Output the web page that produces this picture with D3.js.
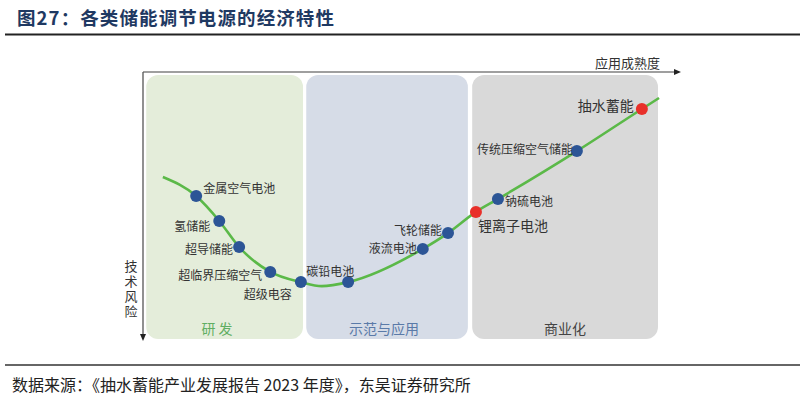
<!DOCTYPE html>
<html><head><meta charset="utf-8">
<script src="https://cdn.jsdelivr.net/npm/d3@7/dist/d3.min.js"></script>
<style>
html,body{margin:0;padding:0;background:#fff;}
svg{display:block;}
text{font-family:"Noto Sans CJK SC","Noto Sans",sans-serif;}
</style></head>
<body>
<svg id="c" width="805" height="403"></svg>
<script>
// ---- data ----
const titleText = "图27：各类储能调节电源的经济特性";
const sourceText = "数据来源：《抽水蓄能产业发展报告 2023 年度》，东吴证券研究所";
const xAxisLabel = "应用成熟度";
const yAxisLabel = "技术风险";

const stages = ["研 发", "示范与应用", "商业化"];
const stageStart = [0.6, 30.4, 61.3];
const stageEnd   = [29.8, 60.5, 95.9];

const techs = ["金属空气电池","氢储能","超导储能","超临界压缩空气","超级电容","碳铅电池","液流电池","飞轮储能","锂离子电池","钠硫电池","传统压缩空气储能","抽水蓄能"];
const maturity = [9.9, 14.2, 17.9, 23.7, 29.4, 38.2, 52.1, 56.8, 62.0, 66.1, 80.8, 92.9];
const level    = [53.7, 44.4, 34.7, 25.4, 21.6, 21.6, 34.0, 39.9, 47.8, 52.6, 70.5, 86.2];
const highlight = [false,false,false,false,false,false,false,false,true,false,false,true];

// curve knots (maturity, level)
const curveX = [3.7, 9.9, 14.2, 17.9, 23.7, 29.4, 33.3, 38.2, 52.1, 56.8, 62.0, 66.1, 80.8, 92.9, 96.1];
const curveY = [60.8, 53.7, 44.4, 34.7, 25.4, 21.6, 20.1, 21.6, 34.0, 39.9, 47.8, 52.6, 70.5, 86.2, 90.3];

// ---- layout ----
const svg = d3.select("#c");
const x = d3.scaleLinear().domain([0, 100]).range([143, 680]);
const y = d3.scaleLinear().domain([0, 100]).range([340, 72]);

const labelLayout = [
  {a:"start", dx:7, dy:-9, fs:12},
  {a:"end", dx:-9, dy:4, fs:12},
  {a:"end", dx:-6, dy:1, fs:12},
  {a:"end", dx:-8, dy:3, fs:12},
  {a:"end", dx:-9, dy:11, fs:12},
  {a:"start", dx:-42, dy:-12, fs:12},
  {a:"end", dx:-6, dy:-1, fs:12},
  {a:"end", dx:-6, dy:-4, fs:12},
  {a:"start", dx:2, dy:13, fs:14},
  {a:"start", dx:7, dy:1, fs:12},
  {a:"end", dx:-4, dy:-3, fs:12},
  {a:"end", dx:-8, dy:-4, fs:14}
];
const stageFill = ["#e4edda", "#d6dce7", "#d9d9d9"];
const stageText = ["#5fae62", "#5a7aa8", "#444444"];
const stageLabelX = [217, 384, 565];

// title
svg.append("text").attr("x", 17).attr("y", 25)
  .attr("font-size", 18.5).attr("font-weight", 700).attr("fill", "#1f3962")
  .attr("letter-spacing", 1.1)
  .text(titleText);
svg.append("line").attr("x1", 5).attr("x2", 800).attr("y1", 34.5).attr("y2", 34.5)
  .attr("stroke", "#222").attr("stroke-width", 2);

// stage panels
stages.forEach((s, i) => {
  svg.append("rect")
    .attr("x", x(stageStart[i])).attr("y", 75)
    .attr("width", x(stageEnd[i]) - x(stageStart[i])).attr("height", 264)
    .attr("rx", 12).attr("ry", 12)
    .attr("fill", stageFill[i]);
  svg.append("text").attr("x", stageLabelX[i]).attr("y", 328)
    .attr("text-anchor", "middle").attr("dominant-baseline", "central")
    .attr("font-size", 14).attr("fill", stageText[i]).text(s);
});

// axes
svg.append("line").attr("x1", x(0)).attr("x2", 676).attr("y1", 72).attr("y2", 72)
  .attr("stroke", "#7f7f7f").attr("stroke-width", 1.5);
svg.append("path").attr("d", "M681,72 L674,69 L674,75 Z").attr("fill", "#222");
svg.append("line").attr("x1", x(0)).attr("x2", x(0)).attr("y1", 72).attr("y2", 336)
  .attr("stroke", "#555").attr("stroke-width", 1.3);
svg.append("path").attr("d", `M${x(0)},341 L${x(0)-3},334 L${x(0)+3},334 Z`).attr("fill", "#222");

svg.append("text").attr("x", 660).attr("y", 62).attr("text-anchor", "end")
  .attr("dominant-baseline", "central").attr("font-size", 13).attr("fill", "#333").text(xAxisLabel);
svg.append("text").attr("x", 131).attr("y", 260)
  .attr("writing-mode", "vertical-rl").attr("text-orientation", "upright")
  .attr("letter-spacing", 1.8)
  .attr("font-size", 13).attr("fill", "#333").text(yAxisLabel);

// curve
const knots = curveX.map((v, i) => [v, curveY[i]]);
svg.append("path")
  .attr("d", d3.line().x(d => x(d[0])).y(d => y(d[1])).curve(d3.curveMonotoneX)(knots))
  .attr("fill", "none").attr("stroke", "#5bb948").attr("stroke-width", 2.6);

// points + labels
techs.forEach((t, i) => {
  const px = x(maturity[i]), py = y(level[i]);
  svg.append("circle").attr("cx", px).attr("cy", py).attr("r", 6)
    .attr("fill", highlight[i] ? "#e8302a" : "#2c5596");
  const L = labelLayout[i];
  svg.append("text").attr("x", px + L.dx).attr("y", py + L.dy)
    .attr("text-anchor", L.a).attr("dominant-baseline", "central")
    .attr("font-size", L.fs).attr("fill", "#333").text(t);
});

// bottom rule and source
svg.append("line").attr("x1", 5).attr("x2", 800).attr("y1", 365).attr("y2", 365)
  .attr("stroke", "#333").attr("stroke-width", 1.5);
svg.append("text").attr("x", 12).attr("y", 384).attr("dominant-baseline", "central")
  .attr("font-size", 16).attr("fill", "#222").text(sourceText);
</script>
</body></html>
